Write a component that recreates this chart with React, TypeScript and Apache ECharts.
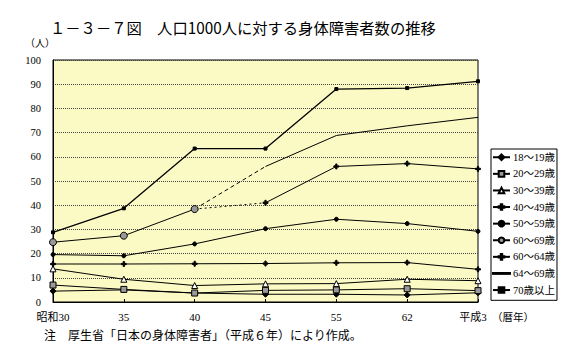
import React, { useEffect, useRef } from "react";
import * as echarts from "echarts";

const categories = ["昭和30", "35", "40", "45", "55", "62", "平成3"];
const yTicks = [0, 10, 20, 30, 40, 50, 60, 70, 80, 90, 100];

const s18_19 = [4.5, 5.0, 3.7, 3.2, 3.2, 2.9, 3.8];
const s20_29 = [7.0, 5.2, 3.7, 4.8, 5.0, 5.5, 4.7];
const s30_39 = [13.7, 9.4, 6.8, 7.5, 7.6, 9.4, 8.8];
const s40_49 = [15.7, 15.7, 15.8, 15.9, 16.2, 16.3, 13.5];
const s50_59 = [19.6, 19.1, 24.0, 30.3, 34.2, 32.4, 29.2];
const s60_69 = [24.7, 27.4, 38.4, null, null, null, null];
const s60_64 = [null, null, null, 41.0, 56.0, 57.2, 55.0];
const s60_64_link = [null, null, 38.4, 41.0, null, null, null];
const s65_69 = [null, null, null, 56.0, 68.8, 72.8, 76.3];
const s65_69_link = [null, null, 38.4, 56.0, null, null, null];
const s70 = [28.8, 38.7, 63.4, 63.4, 88.0, 88.4, 91.2];

const legendNames = [
  "18～19歳",
  "20～29歳",
  "30～39歳",
  "40～49歳",
  "50～59歳",
  "60～69歳",
  "60～64歳",
  "64～69歳",
  "70歳以上",
];

const PLUS = "path://M3,0H5V3H8V5H5V8H3V5H0V3H3Z";
const HLINE = "path://M0,0H20V1H0Z";
const SERIF = "'Liberation Serif','Noto Sans CJK JP',serif";
const SANS = "'Noto Sans CJK JP','Noto Sans',sans-serif";

export default function App() {
  const ref = useRef<HTMLDivElement>(null);
  useEffect(() => {
    if (!ref.current) return;
    const chart = echarts.init(ref.current, null, { renderer: "svg" });
    const line = (
      name: string,
      data: (number | null)[],
      symbol: string,
      symbolSize: number,
      fill: string,
      extra: any = {}
    ) => ({
      name,
      type: "line",
      data,
      symbol,
      symbolSize,
      showAllSymbol: true,
      connectNulls: false,
      lineStyle: { color: "#000", width: 1, ...(extra.lineStyle || {}) },
      itemStyle: { color: fill, borderColor: "#000", borderWidth: 1 },
      emphasis: { disabled: true },
      z: extra.z || 2,
    });
    chart.setOption({
      animation: false,
      backgroundColor: "#fff",
      grid: {
        left: 53,
        right: 98,
        top: 60,
        bottom: 57,
        show: true,
        backgroundColor: "#fcfac4",
        borderColor: "#000",
        borderWidth: 1,
      },
      legend: {
        data: legendNames.map((n, i) => (i === 7 ? { name: n, icon: HLINE } : n)),
        orient: "vertical",
        left: 491,
        top: 149,
        itemWidth: 17,
        itemHeight: 7,
        itemGap: 6.1,
        padding: [3, 2, 5, 1],
        borderColor: "#000",
        borderWidth: 1,
        backgroundColor: "#fff",
        textStyle: { fontFamily: SERIF, fontSize: 10.5, color: "#000", padding: [0, 0, 0, -2] },
        selectedMode: false,
      },
      xAxis: {
        type: "category",
        boundaryGap: false,
        data: categories.map((c, i) =>
          i === categories.length - 1 ? { value: c, textStyle: { padding: [0, 10, 0, 0] } } : c
        ),
        axisLine: { lineStyle: { color: "#000", width: 1 } },
        axisTick: { show: true, inside: true, length: 3, lineStyle: { color: "#000" } },
        axisLabel: { fontFamily: SERIF, fontSize: 11, color: "#000", margin: 9 },
        splitLine: { show: false },
      },
      yAxis: {
        type: "value",
        min: yTicks[0],
        max: yTicks[yTicks.length - 1],
        interval: 10,
        axisLine: { show: true, lineStyle: { color: "#000", width: 1 } },
        axisTick: { show: false },
        axisLabel: { fontFamily: SERIF, fontSize: 10.5, color: "#000", margin: 12 },
        splitLine: { show: true, lineStyle: { color: "#444", type: "dotted", width: 1 } },
      },
      graphic: [
        {
          type: "text",
          x: 50,
          y: 27,
          style: {
            text: "１－３－７図　人口1000人に対する身体障害者数の推移",
            fontFamily: SANS,
            fontSize: 15.3,
            fill: "#000",
            verticalAlign: "middle",
          },
        },
        {
          type: "text",
          x: 25,
          y: 42,
          style: {
            text: "（人）",
            fontFamily: SANS,
            fontSize: 10,
            fill: "#000",
            verticalAlign: "middle",
          },
        },
        {
          type: "text",
          x: 492,
          y: 316,
          style: {
            text: "（暦年）",
            fontFamily: SANS,
            fontSize: 10.5,
            fill: "#000",
            verticalAlign: "middle",
          },
        },
        {
          type: "text",
          x: 44,
          y: 334,
          style: {
            text: "注　厚生省「日本の身体障害者」（平成６年）により作成。",
            fontFamily: SANS,
            fontSize: 12,
            fill: "#000",
            verticalAlign: "middle",
          },
        },
      ],
      series: [
        line(legendNames[0], s18_19, "diamond", 6, "#000"),
        line(legendNames[1], s20_29, "rect", 6, "#999"),
        line(legendNames[2], s30_39, "triangle", 6, "#fff"),
        line(legendNames[3], s40_49, PLUS, 5, "#000"),
        line(legendNames[4], s50_59, "circle", 4, "#000"),
        line(legendNames[5], s60_69, "circle", 7, "#999"),
        line(legendNames[6], s60_64, PLUS, 5, "#000"),
        line(legendNames[7], s65_69, "none", 0, "#000"),
        line(legendNames[8], s70, "rect", 3, "#000", { lineStyle: { width: 1.3 } }),
        line("60～64歳(連結)", s60_64_link, "none", 0, "#000", {
          lineStyle: { type: [2, 3] },
        }),
        line("64～69歳(連結)", s65_69_link, "none", 0, "#000", {
          lineStyle: { type: [4, 3] },
        }),
      ],
    });
    return () => chart.dispose();
  }, []);
  return (
    <div
      ref={ref}
      style={{ position: "fixed", left: 0, top: 0, width: 576, height: 359 }}
    />
  );
}
